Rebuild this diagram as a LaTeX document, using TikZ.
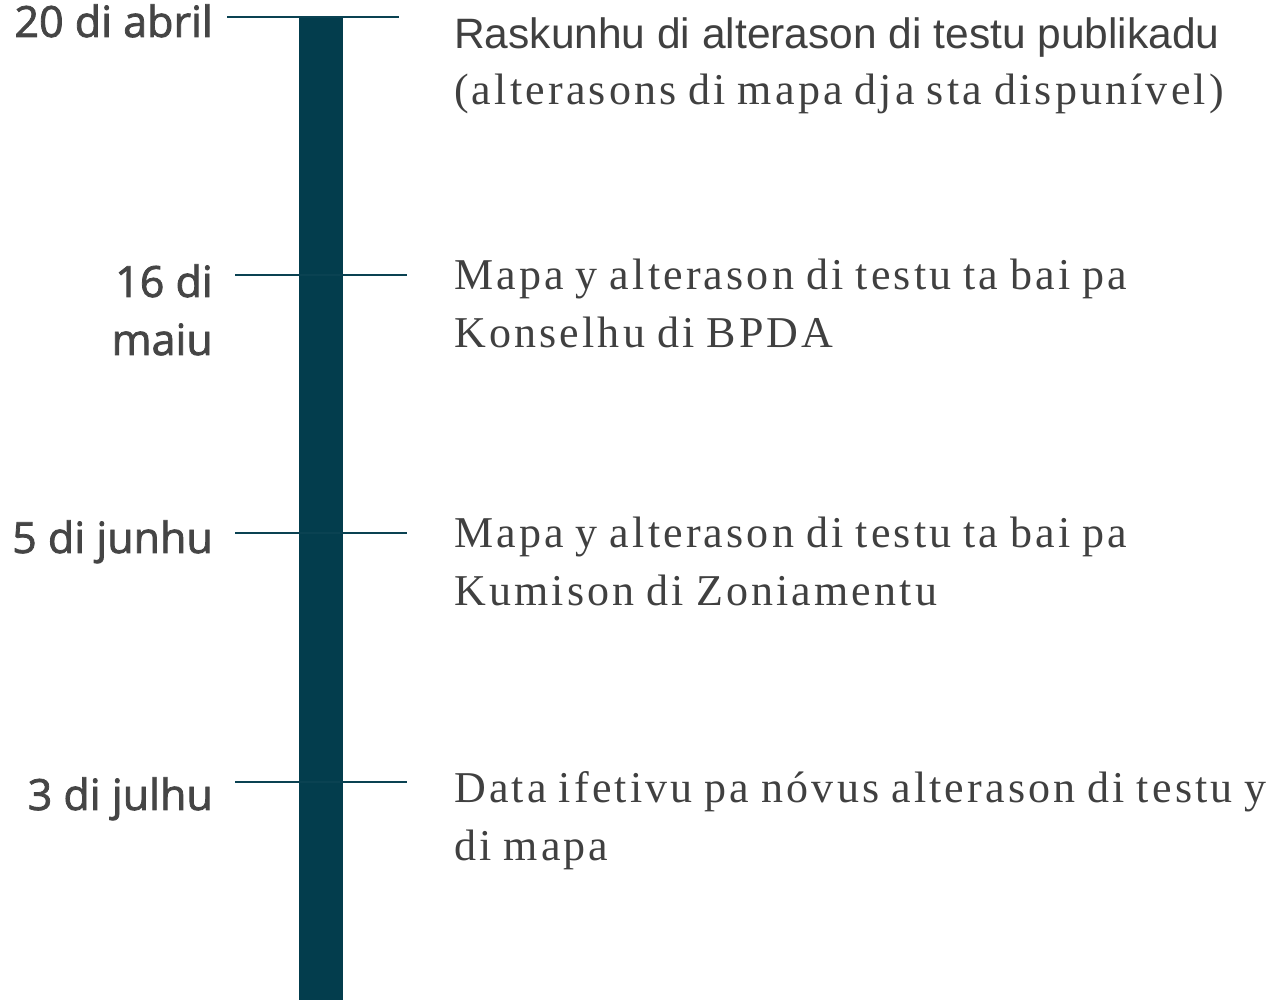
\documentclass[tikz,border=0pt]{standalone}
\usepackage{fontspec}
\setmainfont{Liberation Serif}
\newfontfamily\datefont{Open Sans}[FakeBold=1.8]
\newfontfamily\headfont{Liberation Sans}
\newfontfamily\bodyfont{Liberation Serif}[LetterSpace=7.2,WordSpace=0.85]
\definecolor{barcol}{HTML}{033D4D}
\definecolor{tickcol}{HTML}{0A4252}
\definecolor{datecol}{HTML}{454545}
\definecolor{txtcol}{HTML}{404040}
\tikzset{
  datelbl/.style={anchor=base east,inner sep=0pt,text=datecol,font=\datefont\fontsize{43}{58}\selectfont,align=right},
  headlbl/.style={anchor=base west,inner sep=0pt,text=txtcol,font=\headfont\fontsize{42.5}{58}\selectfont},
  bodylbl/.style={anchor=base west,inner sep=0pt,text=txtcol,font=\bodyfont\fontsize{44}{58}\selectfont,align=left},
  tickline/.style={draw=tickcol,line width=2pt},
  barbox/.style={fill=barcol,draw=none,minimum width=44pt,minimum height=983pt,inner sep=0pt,anchor=north west}
}
\begin{document}
\begin{tikzpicture}[x=1pt,y=1pt]
\useasboundingbox (0,0) rectangle (1270,1000);
% bar
\node[barbox] (bar) at (299,983) {};
% ticks
\coordinate (t1l) at (227,983); \coordinate (t1r) at (399,983);
\coordinate (t2l) at (235,725); \coordinate (t2r) at (407,725);
\coordinate (t3l) at (235,467); \coordinate (t3r) at (407,467);
\coordinate (t4l) at (235,218); \coordinate (t4r) at (407,218);
\draw[tickline] (t1l) -- (t1r);
\draw[tickline] (t2l) -- (t2r);
\draw[tickline] (t3l) -- (t3r);
\draw[tickline] (t4l) -- (t4r);
% dates (base anchor = baseline of last line)
\node[datelbl] (d1) at (213,963) {20 di abril};
\node[datelbl] (d2) at (213,645) {16 di\\maiu};
\node[datelbl] (d3) at (213,447) {5 di junhu};
\node[datelbl] (d4) at (213,190) {3 di julhu};
% descriptions
\node[headlbl] (e1a) at (454,951) {Raskunhu di alterason di testu publikadu};
\node[bodylbl] (e1b) at (454,895) {(alterasons di mapa dja sta dispunível)};
\node[bodylbl] (e2) at (454,652) {Mapa y alterason di testu ta bai pa\\Konselhu di BPDA};
\node[bodylbl] (e3) at (454,394) {Mapa y alterason di testu ta bai pa\\Kumison di Zoniamentu};
\node[bodylbl] (e4) at (454,139) {Data ifetivu pa nóvus alterason di testu y\\di mapa};
\end{tikzpicture}
\end{document}
